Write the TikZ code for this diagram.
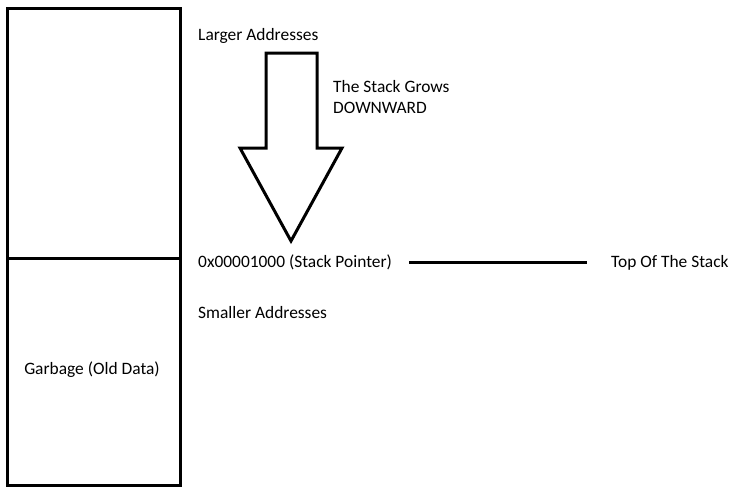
\documentclass[tikz,border=0pt]{standalone}
\usepackage{fontspec}
\setmainfont{Carlito}
\begin{document}
\begin{tikzpicture}[x=1pt,y=-1pt,
  lbl/.style={anchor=west,inner sep=0pt,font=\fontsize{17.4}{20}\selectfont},
  thick3/.style={line width=3pt,line join=miter}]
\useasboundingbox (0,0) rectangle (749,493);
% stack box
\draw[thick3] (7,8) rectangle (180,485);
\draw[thick3] (7,258) -- (180,258);
\node[lbl,anchor=center] (garbage) at (92,370) {Garbage (Old Data)};
% arrow
\draw[thick3] (266,53) -- (317,53) -- (317,148) -- (342,148) -- (291,241) -- (240,148) -- (266,148) -- cycle;
% labels
\node[lbl] (larger) at (198,36) {Larger Addresses};
\node[lbl] (grows) at (333,87) {The Stack Grows};
\node[lbl] (down) at (333,108) {DOWNWARD};
\node[lbl] (sp) at (198,262) {0x00001000 (Stack Pointer)};
\node[lbl] (top) at (611,263) {Top Of The Stack};
\node[lbl] (smaller) at (198,313) {Smaller Addresses};
\coordinate (lineL) at (409,262);
\coordinate (lineR) at (587,262);
\draw[line width=3pt] (lineL) -- (lineR);
\end{tikzpicture}
\end{document}
